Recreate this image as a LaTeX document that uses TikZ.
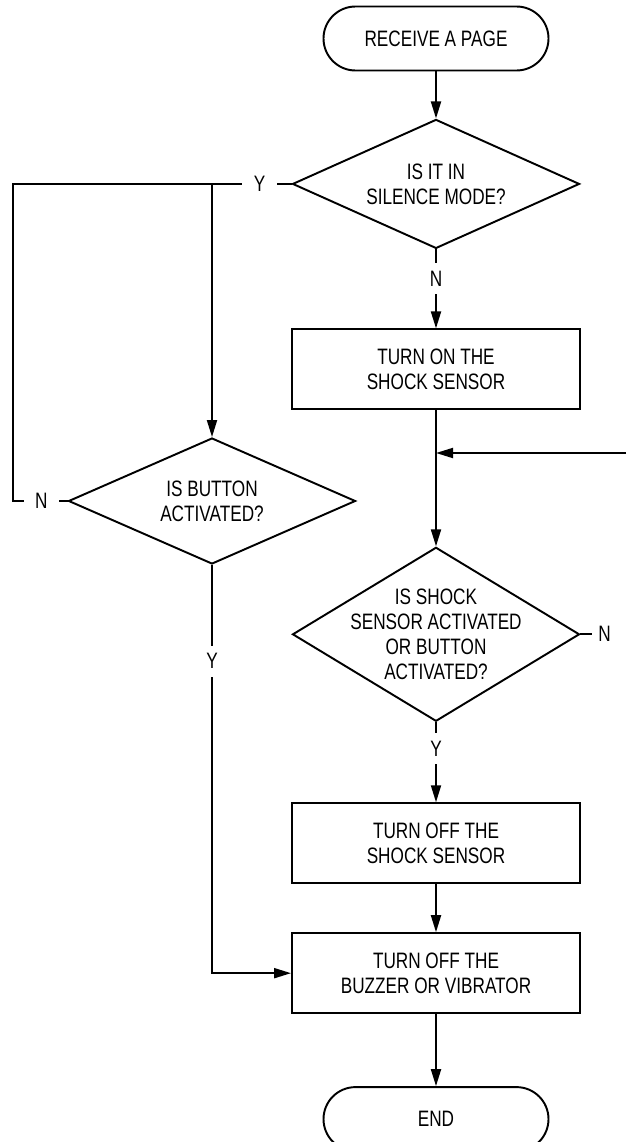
\documentclass[tikz,border=0pt]{standalone}
\usepackage{fontspec}
\setmainfont{Liberation Sans}[FakeStretch=0.77]
\usetikzlibrary{shapes.geometric, arrows.meta, positioning}
\newcommand{\flowfont}{\fontsize{12.7}{14.2}\selectfont}
\tikzset{
  terminal/.style={rectangle, rounded corners=0.64cm, draw, line width=1.1pt,
    minimum width=4.5cm, minimum height=1.28cm, align=center, font=\flowfont},
  process/.style={rectangle, draw, line width=1.1pt, minimum width=5.76cm,
    minimum height=1.6cm, align=center, font=\flowfont},
  decision/.style={diamond, draw, line width=1.1pt, minimum width=5.74cm,
    inner sep=-0.3cm, align=center, font=\flowfont},
  yn/.style={fill=white, font=\flowfont, inner xsep=0.23cm, inner ysep=0.16cm},
  arrow/.style={-{Triangle[length=0.34cm, width=0.2cm]}, line width=1.1pt},
  wire/.style={line width=1.1pt},
}

\begin{document}
\begin{tikzpicture}[node distance=1cm]
  \useasboundingbox (0,0) rectangle (12.52,-22.84);

  %% ── main column ──────────────────────────────────────────────
  \node[terminal] (start) at (8.72,-0.77) {RECEIVE A PAGE};
  \node[decision, minimum height=2.58cm, aspect=2.2, below=0.94cm of start] (silence)
    {IS IT IN\\SILENCE MODE?};
  \node[process, below=1.58cm of silence] (sensoron)
    {TURN ON THE\\SHOCK SENSOR};
  \node[decision, minimum height=3.48cm, aspect=1.65, below=2.72cm of sensoron] (shock)
    {IS SHOCK\\SENSOR ACTIVATED\\OR BUTTON\\ACTIVATED?};
  \node[process, below=1.6cm of shock] (sensoroff)
    {TURN OFF THE\\SHOCK SENSOR};
  \node[process, below=0.96cm of sensoroff] (buzzeroff)
    {TURN OFF THE\\BUZZER OR VIBRATOR};
  \node[terminal, below=1.44cm of buzzeroff] (stop) {END};

  %% ── button check on the left ─────────────────────────────────
  \node[decision, minimum height=2.52cm, aspect=2.28] (button) at (4.24,-10.02)
    {IS BUTTON\\ACTIVATED?};

  \coordinate (lft) at (0.26,-3.66);
  \coordinate (back) at (12.52,-9.06);
  \coordinate (join) at (sensoron.south |- back);

  \draw[arrow] (start) -- (silence);
  \draw[arrow] (silence.south) -- node[yn, pos=0.37] (nsil) {N} (sensoron.north);
  \draw[arrow] (sensoron) -- (shock);
  \draw[arrow] (back) -- (join);
  \draw[arrow] (shock.south) -- node[yn, pos=0.33] (yshock) {Y} (sensoroff.north);
  \draw[arrow] (sensoroff) -- (buzzeroff);
  \draw[arrow] (buzzeroff) -- (stop);

  % silence mode: go to the button check
  \draw[wire] (silence.west) -- node[yn, pos=0.4] (ysil) {Y} (silence.west -| button.north)
    -- (silence.west -| lft) -- (button.west -| lft)
    -- node[yn, pos=0.52] (nbut) {N} (button.west);
  \draw[arrow] (silence.west -| button.north) -- (button.north);
  \draw[arrow] (button.south) -- node[yn, pos=0.236] (ybut) {Y} (button.south |- buzzeroff.west)
    -- (buzzeroff.west);

  % shock sensor not activated
  \draw[wire] (shock.east) -- ([xshift=0.24cm]shock.east)
    node[right, font=\flowfont, inner sep=0.1cm] (nshock) {N};

\end{tikzpicture}
\end{document}
